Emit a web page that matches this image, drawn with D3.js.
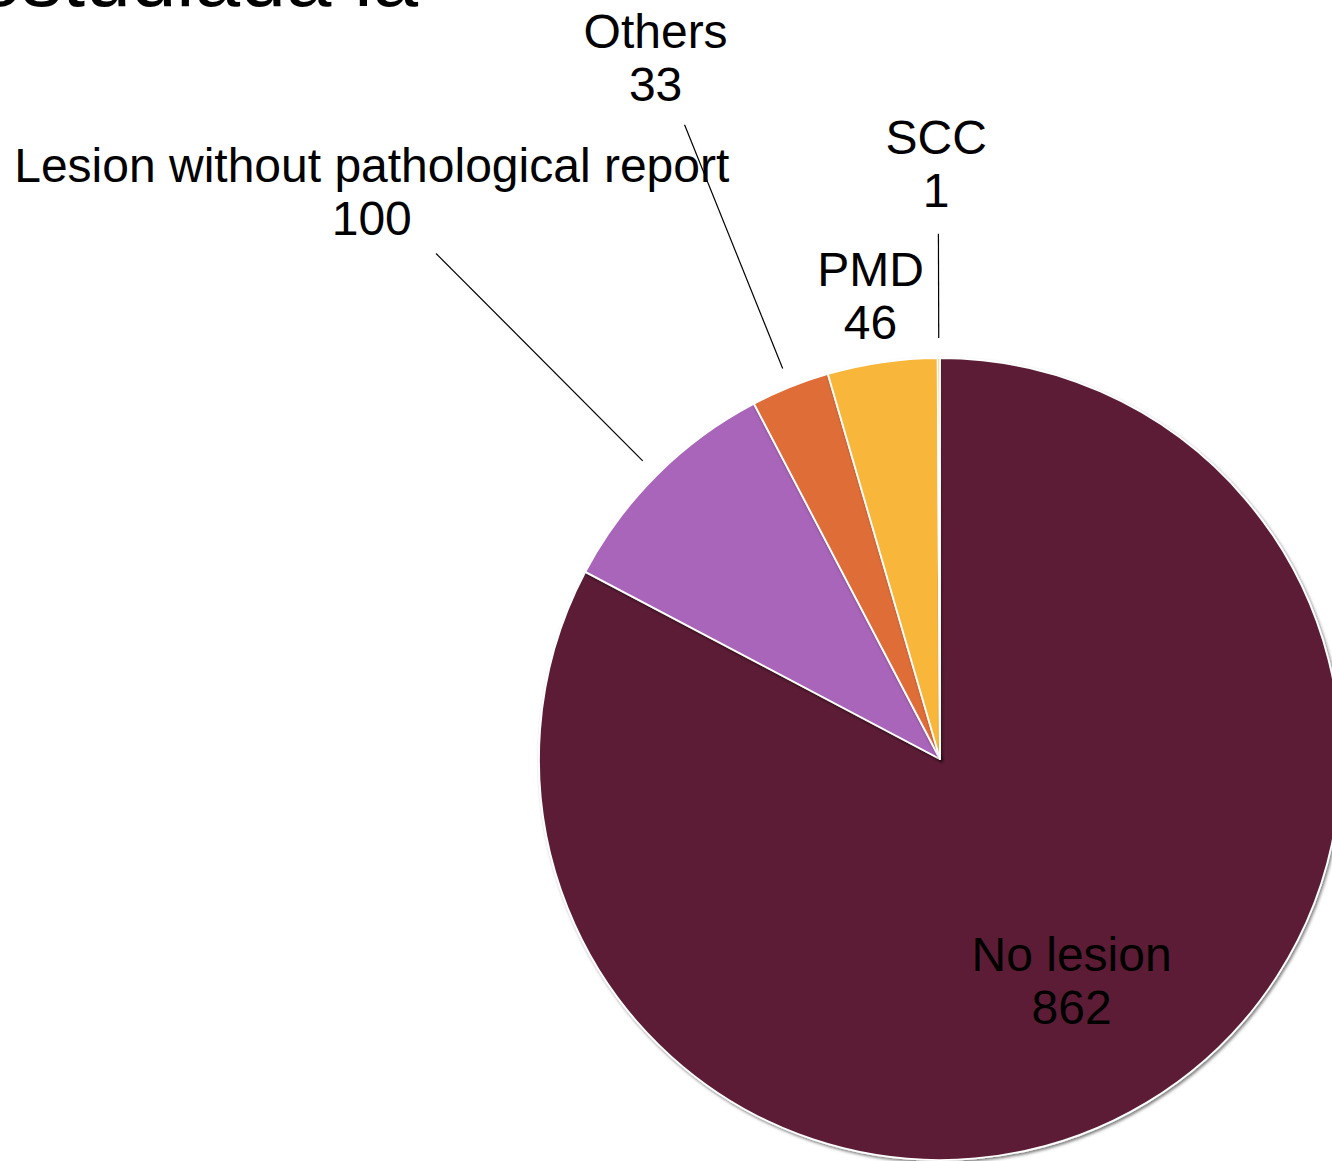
<!DOCTYPE html>
<html>
<head>
<meta charset="utf-8">
<script src="https://cdn.jsdelivr.net/npm/d3@7"></script>
<style>
  body { margin: 0; background: #fff; }
  svg { display: block; font-family: "Liberation Sans", Arial, sans-serif; }
</style>
</head>
<body>
<div id="chart"></div>
<script>
// data
const categories = ["No lesion", "Lesion without pathological report", "Others", "PMD", "SCC"];
const values = [862, 100, 33, 46, 1];
const colors = ["#5c1f35", "#a965b9", "#df6d37", "#f8b63b", "#f8b63b"];

// label placement (distance from centre, as a fraction of radius)
const labelDist = [0.645, 2.0, 1.885, 1.168, 1.484];
const leaderOuter = [null, 1.78, 1.705, null, 1.31];

const width = 1332;
const height = 1161;
const cx = 940;
const cy = 759;
const radius = 401;

const svg = d3
  .select("#chart")
  .append("svg")
  .attr("width", width)
  .attr("height", height);

const defs = svg.append("defs");
const shadow = defs.append("filter").attr("id", "shadow")
  .attr("x", "-10%").attr("y", "-10%").attr("width", "130%").attr("height", "130%");
shadow.append("feDropShadow")
  .attr("dx", 1.5).attr("dy", 2)
  .attr("stdDeviation", 1.8)
  .attr("flood-color", "#000")
  .attr("flood-opacity", 0.5);

// title, mostly above the top edge as in the original
svg
  .append("text")
  .attr("x", 418)
  .attr("y", 6)
  .attr("text-anchor", "end")
  .attr("font-size", 82)
  .attr("fill", "#000")
  .text("Población estudiada la");

const table = categories.map((c, i) => ({ name: c, value: values[i], color: colors[i], k: labelDist[i], lk: leaderOuter[i] }));

const pie = d3.pie().sort(null).value((d) => d.value).startAngle(0).endAngle(2 * Math.PI);
const arcs = pie(table);

const arc = d3.arc().innerRadius(0).outerRadius(radius);

const g = svg.append("g").attr("transform", "translate(" + cx + "," + cy + ")");

g.selectAll("path")
  .data(arcs)
  .enter()
  .append("path")
  .attr("d", arc)
  .attr("fill", (d) => d.data.color)
  .attr("stroke", "#fff")
  .attr("stroke-width", 1.8)
  .attr("stroke-linejoin", "round")
  .attr("filter", "url(#shadow)");

function polar(angle, r) {
  return [Math.sin(angle) * r, -Math.cos(angle) * r];
}

// leader lines
g.selectAll(".leader")
  .data(arcs.filter((d) => d.data.lk))
  .enter()
  .append("line")
  .attr("class", "leader")
  .each(function (d) {
    const mid = (d.startAngle + d.endAngle) / 2;
    const a = polar(mid, radius * 1.05);
    const b = polar(mid, radius * d.data.lk);
    d3.select(this)
      .attr("x1", a[0]).attr("y1", a[1])
      .attr("x2", b[0]).attr("y2", b[1]);
  })
  .attr("stroke", "#000")
  .attr("stroke-width", 1.2);

// labels
const lineGap = 53;
const labels = g.selectAll(".label")
  .data(arcs)
  .enter()
  .append("text")
  .attr("class", "label")
  .attr("text-anchor", "middle")
  .attr("font-size", 48)
  .attr("fill", "#000")
  .attr("transform", (d) => {
    const mid = (d.startAngle + d.endAngle) / 2;
    const p = polar(mid, radius * d.data.k);
    return "translate(" + (p[0] - 2) + "," + (p[1] - 9.5) + ")";
  });

labels.append("tspan").attr("x", 0).attr("y", 0).text((d) => d.data.name);
labels.append("tspan").attr("x", 0).attr("y", lineGap).text((d) => d.data.value);
</script>
</body>
</html>
